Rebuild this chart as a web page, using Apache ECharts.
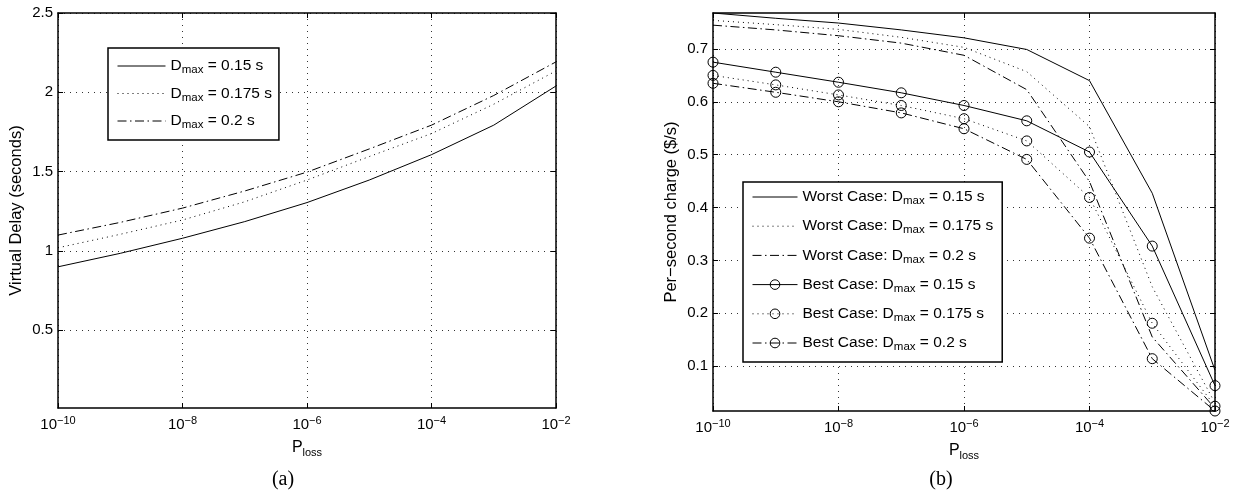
<!DOCTYPE html>
<html>
<head>
<meta charset="utf-8">
<title>Virtual delay and per-second charge</title>
<script src="https://cdn.jsdelivr.net/npm/echarts@6/dist/echarts.min.js"></script>
<style>
  html, body { margin: 0; padding: 0; background: #fff; }
  #main { width: 1239px; height: 493px; }
</style>
</head>
<body>
<div id="main"></div>
<script>
// P_loss as powers of ten (10^-10 ... 10^-2)
var lossExp = [-10, -9, -8, -7, -6, -5, -4, -3, -2];
var xTickExp = [-10, -8, -6, -4, -2];

// (a) virtual delay, seconds
var delay015 = [0.90, 0.985, 1.08, 1.185, 1.305, 1.447, 1.607, 1.793, 2.04];
var delay0175 = [1.02, 1.105, 1.195, 1.31, 1.447, 1.595, 1.74, 1.925, 2.135];
var delay02 = [1.10, 1.18, 1.27, 1.378, 1.497, 1.643, 1.793, 1.98, 2.192];
var delayTicks = [0.5, 1, 1.5, 2, 2.5];

// (b) per-second charge, $/s
var worst015 = [0.768, 0.758, 0.749, 0.736, 0.721, 0.699, 0.640, 0.427, 0.092];
var worst0175 = [0.754, 0.746, 0.737, 0.722, 0.703, 0.657, 0.553, 0.250, 0.030];
var worst02 = [0.745, 0.736, 0.725, 0.711, 0.688, 0.623, 0.449, 0.155, 0.020];
var best015 = [0.675, 0.656, 0.637, 0.617, 0.593, 0.564, 0.505, 0.327, 0.063];
var best0175 = [0.650, 0.632, 0.613, 0.593, 0.568, 0.526, 0.419, 0.181, 0.024];
var best02 = [0.635, 0.618, 0.600, 0.579, 0.549, 0.491, 0.342, 0.114, 0.015];
var chargeTicks = [0.1, 0.2, 0.3, 0.4, 0.5, 0.6, 0.7];

var dmaxLabels = ['0.15', '0.175', '0.2'];

var FONT = 'Liberation Sans';
var SOLID = 'solid';
var DOT = [1, 4];
var DASHDOT = [9, 3.5, 1.5, 3.5];
var styles = [SOLID, DOT, DASHDOT];

function pairs(ys) {
  return lossExp.map(function (e, i) { return [e, ys[i]]; });
}

var chargeAll = [].concat(worst015, worst0175, worst02, best015, best0175, best02);
var chargeMin = Math.min.apply(null, chargeAll);
var chargeMax = Math.max.apply(null, chargeAll);

var chart = echarts.init(document.getElementById('main'));

var tickLabelRich = {
  b: { fontFamily: FONT, fontSize: 15, lineHeight: 20, color: '#000' },
  s: { fontFamily: FONT, fontSize: 11, lineHeight: 10, verticalAlign: 'top', color: '#000' }
};
var legendRich = {
  t: { fontFamily: FONT, fontSize: 15.5, lineHeight: 20, color: '#000' },
  sub: { fontFamily: FONT, fontSize: 11.5, lineHeight: 8, verticalAlign: 'bottom', color: '#000' }
};
var nameRich = {
  t: { fontFamily: FONT, fontSize: 16, lineHeight: 20, color: '#000' },
  sub: { fontFamily: FONT, fontSize: 11, lineHeight: 8, verticalAlign: 'bottom', color: '#000' }
};

function xAxes(grid) {
  return [{
    gridIndex: grid, type: 'value', position: 'bottom', min: -10, max: -2,
    name: '{t|P}{sub|loss}', nameLocation: 'middle', nameGap: 30,
    nameTextStyle: { rich: nameRich },
    axisLine: { lineStyle: { color: '#000', width: 1.5 } },
    axisTick: { inside: true, length: 5, customValues: xTickExp, lineStyle: { color: '#000' } },
    axisLabel: {
      customValues: xTickExp, margin: 7,
      formatter: function (v) { return '{b|10}{s|\u2212' + Math.abs(v) + '}'; },
      rich: tickLabelRich
    },
    splitLine: { show: true, lineStyle: { color: '#333', width: 1, type: [1, 5] } }
  }, {
    gridIndex: grid, type: 'value', position: 'top', min: -10, max: -2,
    axisLine: { lineStyle: { color: '#000', width: 1.5 } },
    axisTick: { inside: true, length: 5, customValues: xTickExp, lineStyle: { color: '#000' } },
    axisLabel: { show: false },
    splitLine: { show: false }
  }];
}

function yAxes(grid, min, max, ticks, name, fmt) {
  return [{
    gridIndex: grid, type: 'value', position: 'left', min: min, max: max,
    name: name, nameLocation: 'middle', nameGap: 33,
    nameTextStyle: { fontFamily: FONT, fontSize: 16.5, color: '#000' },
    axisLine: { show: true, lineStyle: { color: '#000', width: 1.5 } },
    axisTick: { show: true, inside: true, length: 5, customValues: ticks, lineStyle: { color: '#000' } },
    axisLabel: { customValues: ticks, margin: 5, formatter: fmt, fontFamily: FONT, fontSize: 15, color: '#000' },
    splitLine: { show: true, lineStyle: { color: '#333', width: 1, type: [1, 5] } }
  }, {
    gridIndex: grid, type: 'value', position: 'right', min: min, max: max,
    axisLine: { show: true, lineStyle: { color: '#000', width: 1.5 } },
    axisTick: { show: true, inside: true, length: 5, customValues: ticks, lineStyle: { color: '#000' } },
    axisLabel: { show: false },
    splitLine: { show: false }
  }];
}

function lineSeries(name, xi, yi, ys, type, marker) {
  return {
    name: name, type: 'line', xAxisIndex: xi, yAxisIndex: yi,
    data: pairs(ys),
    symbol: marker ? 'circle' : 'none', symbolSize: 10,
    itemStyle: marker ? { color: 'transparent', borderColor: '#000', borderWidth: 1 }
                      : { color: 'transparent', borderColor: 'transparent', borderWidth: 0 },
    lineStyle: { color: '#000', width: 1, type: type },
    emphasis: { disabled: true },
    silent: true
  };
}

var leftNames = dmaxLabels.map(function (d) { return 'Dmax = ' + d + ' s'; });
var worstNames = dmaxLabels.map(function (d) { return 'Worst Case: Dmax = ' + d + ' s'; });
var bestNames = dmaxLabels.map(function (d) { return 'Best Case: Dmax = ' + d + ' s'; });

function legendLabel(name) {
  var i = name.indexOf('Dmax');
  var pre = name.slice(0, i);
  var post = name.slice(i + 4);
  return (pre ? '{t|' + pre + '}' : '') + '{t|D}{sub|max}{t|' + post + '}';
}

function legendItem(name, type, marker) {
  return {
    name: name,
    lineStyle: { color: '#000', width: 1, type: type, opacity: 1 },
    itemStyle: marker ? { color: 'transparent', borderColor: '#000', borderWidth: 1, opacity: 1 }
                      : { color: 'transparent', borderColor: 'transparent', borderWidth: 0, opacity: 0 }
  };
}

var series = [
  lineSeries(leftNames[0], 0, 0, delay015, styles[0], false),
  lineSeries(leftNames[1], 0, 0, delay0175, styles[1], false),
  lineSeries(leftNames[2], 0, 0, delay02, styles[2], false),
  lineSeries(worstNames[0], 2, 2, worst015, styles[0], false),
  lineSeries(worstNames[1], 2, 2, worst0175, styles[1], false),
  lineSeries(worstNames[2], 2, 2, worst02, styles[2], false),
  lineSeries(bestNames[0], 2, 2, best015, styles[0], true),
  lineSeries(bestNames[1], 2, 2, best0175, styles[1], true),
  lineSeries(bestNames[2], 2, 2, best02, styles[2], true)
];

var option = {
  backgroundColor: '#fff',
  animation: false,
  grid: [
    { left: 58, top: 13, width: 498, height: 395, outerBoundsMode: 'none' },
    { left: 713, top: 13, width: 502, height: 398, outerBoundsMode: 'none' }
  ],
  xAxis: xAxes(0).concat(xAxes(1)),
  yAxis: yAxes(0, 0.01, 2.5, delayTicks, 'Virtual Delay (seconds)', function (v) { return String(v); })
    .concat(yAxes(1, chargeMin, chargeMax, chargeTicks, 'Per\u2212second charge ($/s)', function (v) { return v.toFixed(1); })),
  legend: [{
    orient: 'vertical', align: 'left', left: 108, top: 48,
    padding: [10, 7, 9, 9], itemGap: 9.5, itemWidth: 48, itemHeight: 12,
    backgroundColor: '#fff', borderColor: '#000', borderWidth: 1.5,
    selectedMode: false,
    data: leftNames.map(function (n, i) { return legendItem(n, styles[i], false); }),
    formatter: legendLabel,
    textStyle: { rich: legendRich }
  }, {
    orient: 'vertical', align: 'left', left: 743, top: 182,
    padding: [7, 9, 9, 9], itemGap: 11.2, itemWidth: 45, itemHeight: 12,
    backgroundColor: '#fff', borderColor: '#000', borderWidth: 1.5,
    selectedMode: false,
    data: worstNames.map(function (n, i) { return legendItem(n, styles[i], false); })
      .concat(bestNames.map(function (n, i) { return legendItem(n, styles[i], true); })),
    formatter: legendLabel,
    textStyle: { rich: legendRich }
  }],
  graphic: [
    { type: 'text', x: 283, y: 480, style: { text: '(a)', font: '20px "Liberation Serif"', fill: '#000', textAlign: 'center', textVerticalAlign: 'middle' } },
    { type: 'text', x: 941, y: 480, style: { text: '(b)', font: '20px "Liberation Serif"', fill: '#000', textAlign: 'center', textVerticalAlign: 'middle' } }
  ],
  series: series
};

chart.setOption(option);
</script>
</body>
</html>
